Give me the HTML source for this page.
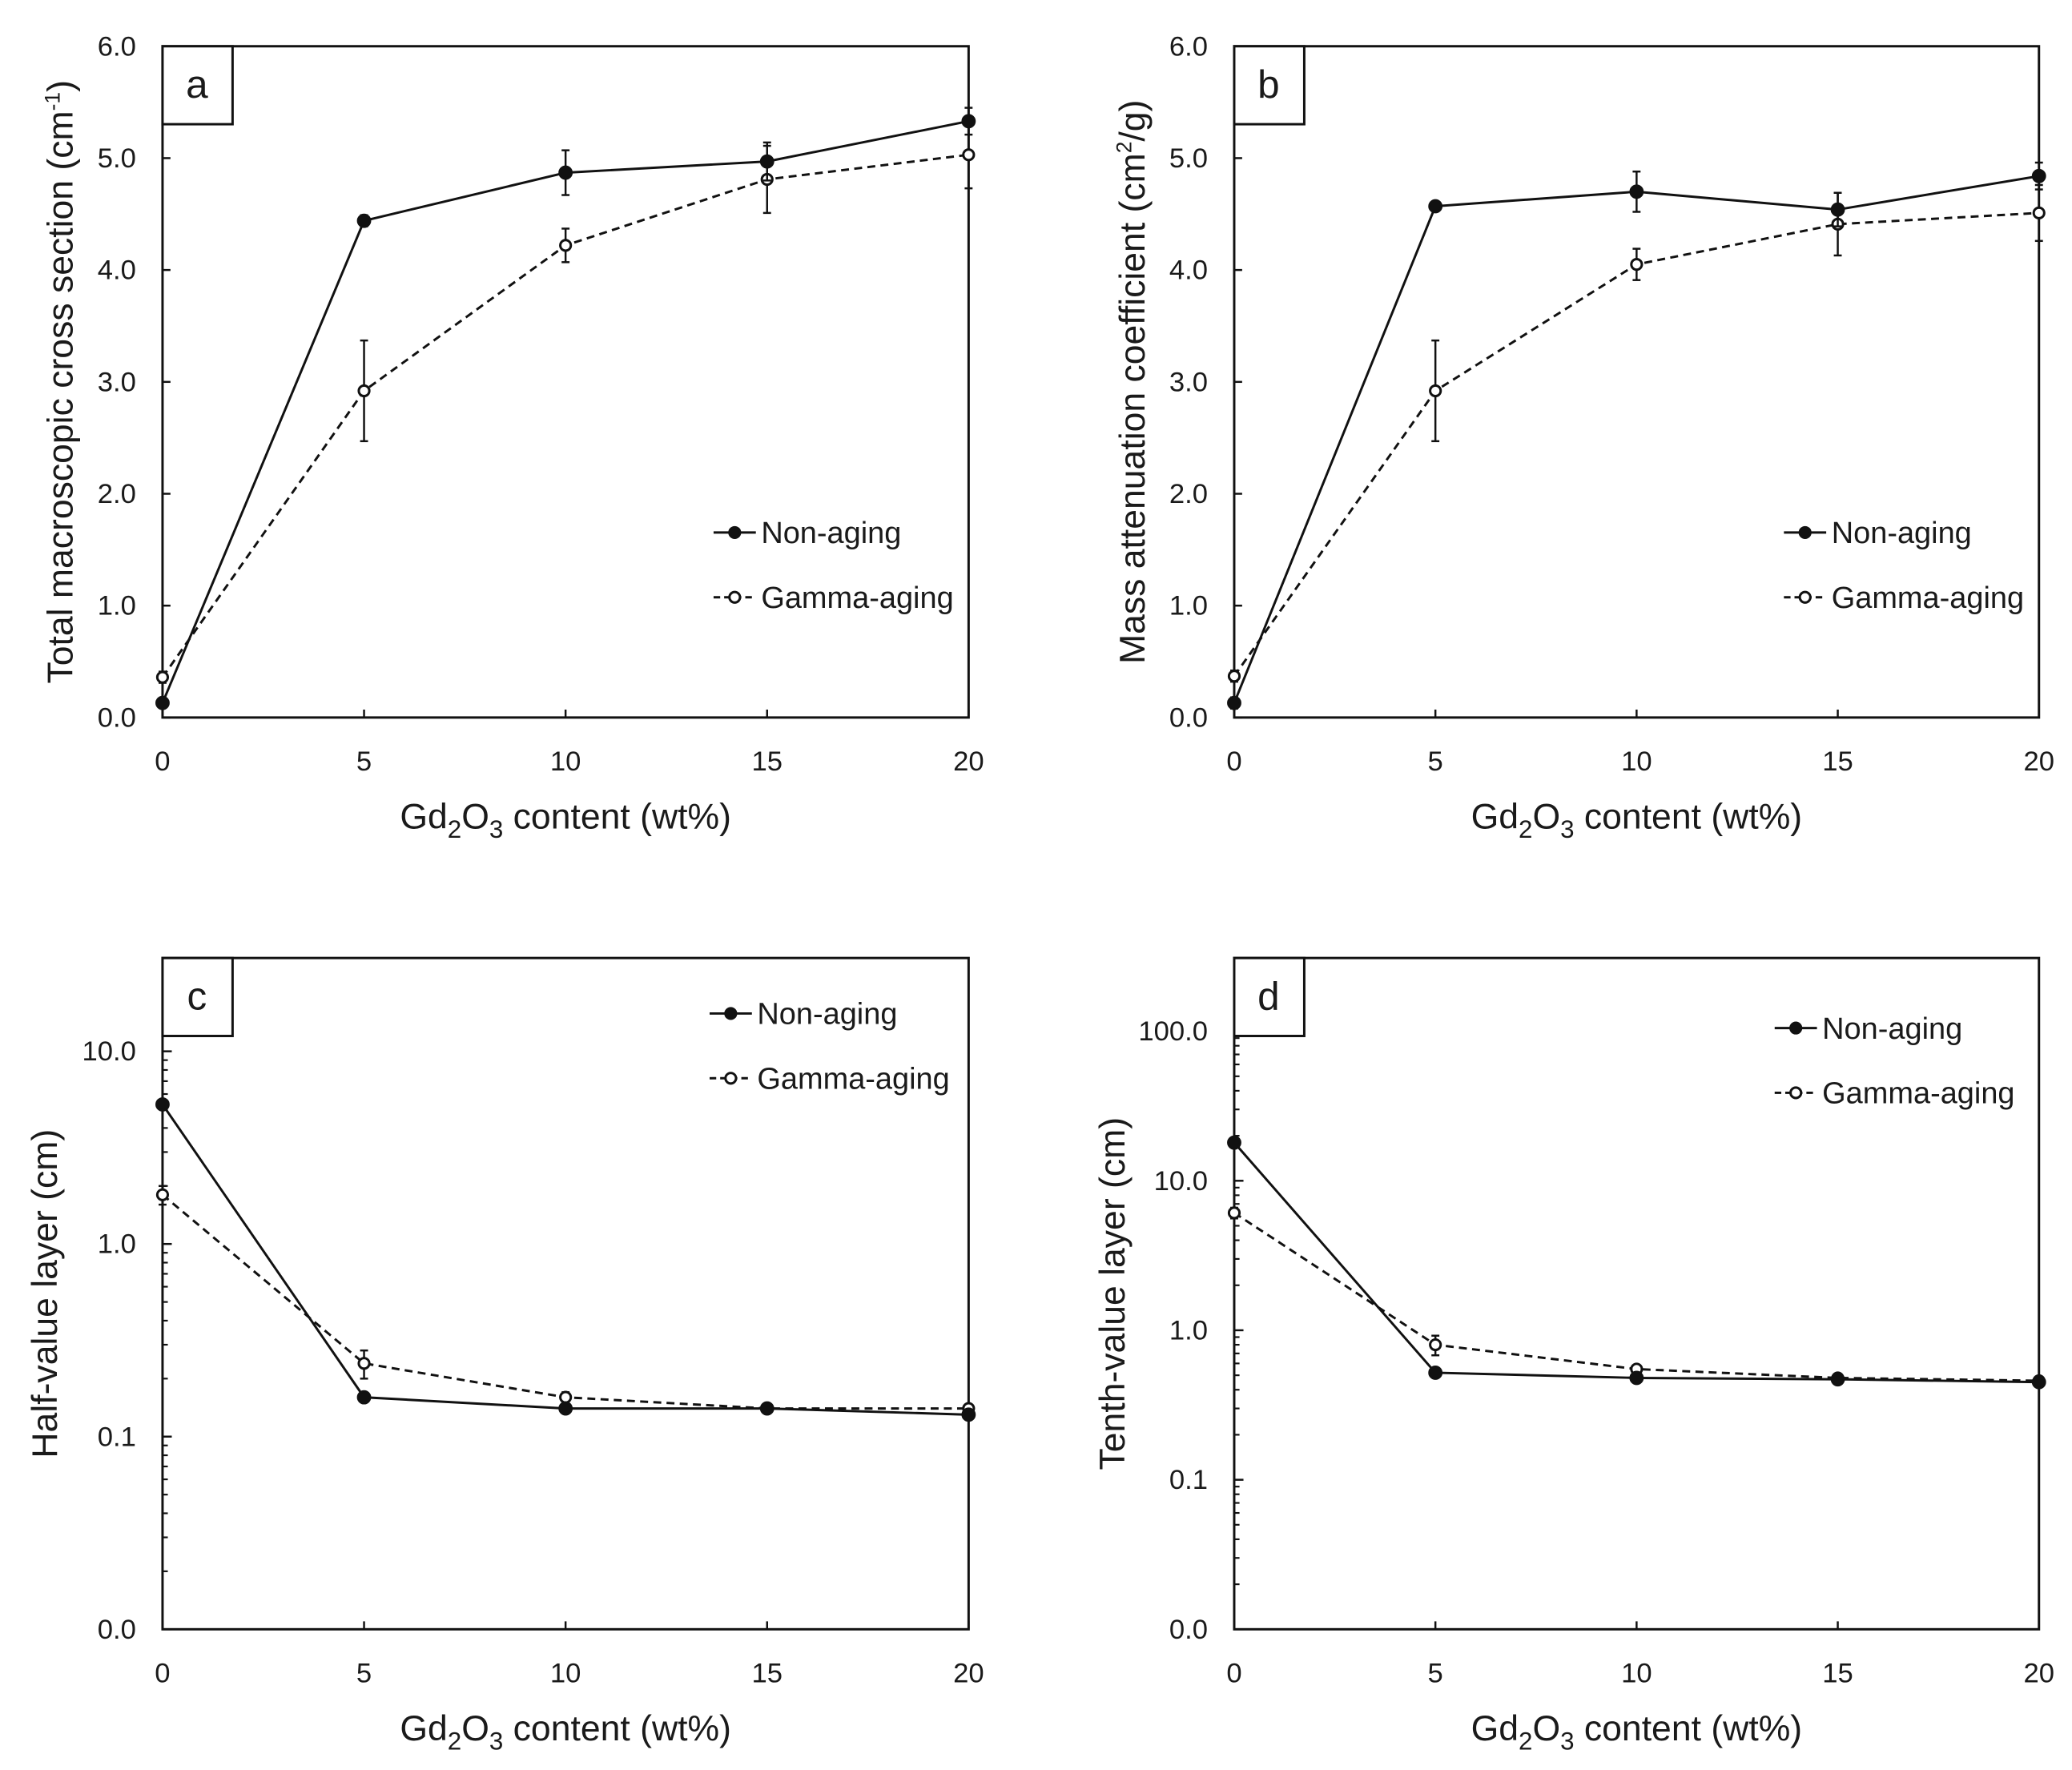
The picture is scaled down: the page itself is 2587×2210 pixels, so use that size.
<!DOCTYPE html>
<html><head><meta charset="utf-8"><style>
html,body{margin:0;padding:0;background:#fff;}
svg{display:block;}
text{font-family:"Liberation Sans","DejaVu Sans",sans-serif;fill:#1a1a1a;}
</style></head><body>
<svg id="c" width="2587" height="2210" viewBox="0 0 1568 1339.5" xmlns="http://www.w3.org/2000/svg"></svg>
<script>
const xValues=[0,5,10,15,20];
const aNon=[0.13,4.44,4.87,4.97,5.33], aNonErr=[0.03,0.05,0.2,0.17,0.12];
const aGam=[0.36,2.92,4.22,4.81,5.03], aGamErr=[0.05,0.45,0.15,0.3,0.3];
const bNon=[0.13,4.57,4.70,4.54,4.84], bNonErr=[0.05,0.04,0.18,0.15,0.12];
const bGam=[0.37,2.92,4.05,4.41,4.51], bGamErr=[0.05,0.45,0.14,0.28,0.25];
const cNon=[5.3,0.16,0.14,0.14,0.13];
const cGam=[1.8,0.24,0.16,0.14,0.14], cGamErr=[0.2,0.04,0.01,0.005,0.005];
const dNon=[18,0.52,0.48,0.47,0.45];
const dGam=[6.1,0.8,0.55,0.48,0.46], dGamErr=[0.5,0.12,0.03,0.02,0.02];
const linTicks=["0.0","1.0","2.0","3.0","4.0","5.0","6.0"];
const cTicks=["0.0","0.1","1.0","10.0"];
const dTicks=["0.0","0.1","1.0","10.0","100.0"];
const xTicks=["0","5","10","15","20"];

const NS="http://www.w3.org/2000/svg";
const svg=document.getElementById('c');
function el(tag,attrs,parent,txt){const e=document.createElementNS(NS,tag);for(const k in attrs)e.setAttribute(k,attrs[k]);if(txt!==undefined)e.textContent=txt;(parent||svg).appendChild(e);return e;}

function panel(o){
  const g=el('g',{});
  
  
  const L=o.x0,R=o.x1,T=o.y0,B=o.y1;
  const sx=v=>L+(v/20)*(R-L);
  let sy;
  if(o.log){sy=v=>B-(Math.log10(v)-o.lmin)/(o.lmax-o.lmin)*(B-T);}
  else sy=v=>B-v/6*(B-T);
  const frame=el('rect',{x:L,y:T,width:R-L,height:B-T,fill:'none',stroke:'#111','stroke-width':1.8},g);
  
  if(!o.log){
    linTicks.forEach((t,i)=>{const y=sy(+t);
      el('line',{x1:L,x2:L+6,y1:y,y2:y,stroke:'#111','stroke-width':1.5},g);
      const tx=el('text',{x:L-20,y:y+7,'font-size':21,'text-anchor':'end'},g,t);
      });
  } else {
    o.ticks.forEach((t,i)=>{const v=Math.pow(10,o.lmin+i);const y=sy(v);
      el('line',{x1:L,x2:L+7,y1:y,y2:y,stroke:'#111','stroke-width':1.5},g);
      const tx=el('text',{x:L-20,y:y+7,'font-size':21,'text-anchor':'end'},g,t);
      });
    for(let d=o.lmin;d<o.lmax;d++)for(let m=2;m<=9;m++){const v=m*Math.pow(10,d);if(Math.log10(v)>o.lmax)break;const y=sy(v);
      el('line',{x1:L,x2:L+4,y1:y,y2:y,stroke:'#111','stroke-width':1.3},g);}
  }
  xTicks.forEach(t=>{const x=sx(+t);
    el('line',{x1:x,x2:x,y1:B,y2:B-6,stroke:'#111','stroke-width':1.5},g);
    const tx=el('text',{x:x,y:B+40,'font-size':21,'text-anchor':'middle'},g,t);
    });
  const xt=el('text',{x:(L+R)/2,y:B+84,'font-size':27,'text-anchor':'middle'},g);
  
  xt.innerHTML='Gd<tspan font-size="19" dy="7">2</tspan><tspan dy="-7">O</tspan><tspan font-size="19" dy="7">3</tspan><tspan dy="-7"> content (wt%)</tspan>';
  const yt=el('text',{x:0,y:0,'font-size':27,'text-anchor':'middle',transform:`translate(${o.ytx},${(T+B)/2}) rotate(-90)`},g);
  
  yt.innerHTML=o.ytitle;
  const lb=el('rect',{x:L,y:T,width:53,height:59,fill:'#fff',stroke:'#111','stroke-width':1.8},g);
  
  el('text',{x:L+26,y:T+39,'font-size':30,'text-anchor':'middle'},g,o.id);
  function series(vals,errs,filled,name){
    const pts=vals.map((v,i)=>sx(xValues[i])+','+sy(v)).join(' ');
    const pl=el('polyline',{points:pts,fill:'none',stroke:'#111','stroke-width':1.8,'stroke-dasharray':filled?'':'6,4'},g);
    
    vals.forEach((v,i)=>{const x=sx(xValues[i]);
      if(errs){const lo=Math.max(v-errs[i],o.log?1e-3:0);
        el('line',{x1:x,x2:x,y1:sy(v+errs[i]),y2:sy(lo),stroke:'#111','stroke-width':1.5},g);
        el('line',{x1:x-3,x2:x+3,y1:sy(v+errs[i]),y2:sy(v+errs[i]),stroke:'#111','stroke-width':1.5},g);
        el('line',{x1:x-3,x2:x+3,y1:sy(lo),y2:sy(lo),stroke:'#111','stroke-width':1.5},g);}
      const c=el('circle',{cx:x,cy:sy(v),r:filled?4.5:4,fill:filled?'#111':'#fff',stroke:'#111','stroke-width':1.8},g);
      });
  }
  series(o.gam,o.gamErr,false,'gamma-aging');
  series(o.non,o.nonErr,true,'non-aging');
  const lg=el('g',{},g);
  [[o.ly,'Non-aging',true],[o.ly+49,'Gamma-aging',false]].forEach(([y,t,f])=>{
    const e=el('g',{},lg);
    el('line',{x1:o.lx,x2:o.lx+32,y1:y,y2:y,stroke:'#111','stroke-width':1.8,'stroke-dasharray':f?'':'5,3'},e);
    el('circle',{cx:o.lx+16,cy:y,r:4,fill:f?'#111':'#fff',stroke:'#111','stroke-width':1.8},e);
    el('text',{x:o.lx+36,y:y+8,'font-size':23},e,t);});
}
panel({id:'a',x0:123,x1:733,y0:35,y1:543,non:aNon,nonErr:aNonErr,gam:aGam,gamErr:aGamErr,ytx:55,
  ytitle:'Total macroscopic cross section (cm<tspan font-size="16" dy="-10">-1</tspan><tspan dy="10">)</tspan>',lx:540,ly:403});
panel({id:'b',x0:934,x1:1543,y0:35,y1:543,non:bNon,nonErr:bNonErr,gam:bGam,gamErr:bGamErr,ytx:866,
  ytitle:'Mass attenuation coefficient (cm<tspan font-size="16" dy="-10">2</tspan><tspan dy="10">/g)</tspan>',lx:1350,ly:403});
panel({id:'c',x0:123,x1:733,y0:725,y1:1233,log:true,lmin:-2,lmax:Math.log10(30.5),ticks:cTicks,non:cNon,nonErr:null,gam:cGam,gamErr:cGamErr,ytx:43,
  ytitle:'Half-value layer (cm)',lx:537,ly:767});
panel({id:'d',x0:934,x1:1543,y0:725,y1:1233,log:true,lmin:-2,lmax:2.49,ticks:dTicks,non:dNon,nonErr:null,gam:dGam,gamErr:dGamErr,ytx:851,
  ytitle:'Tenth-value layer (cm)',lx:1343,ly:778});
</script>
</body></html>
